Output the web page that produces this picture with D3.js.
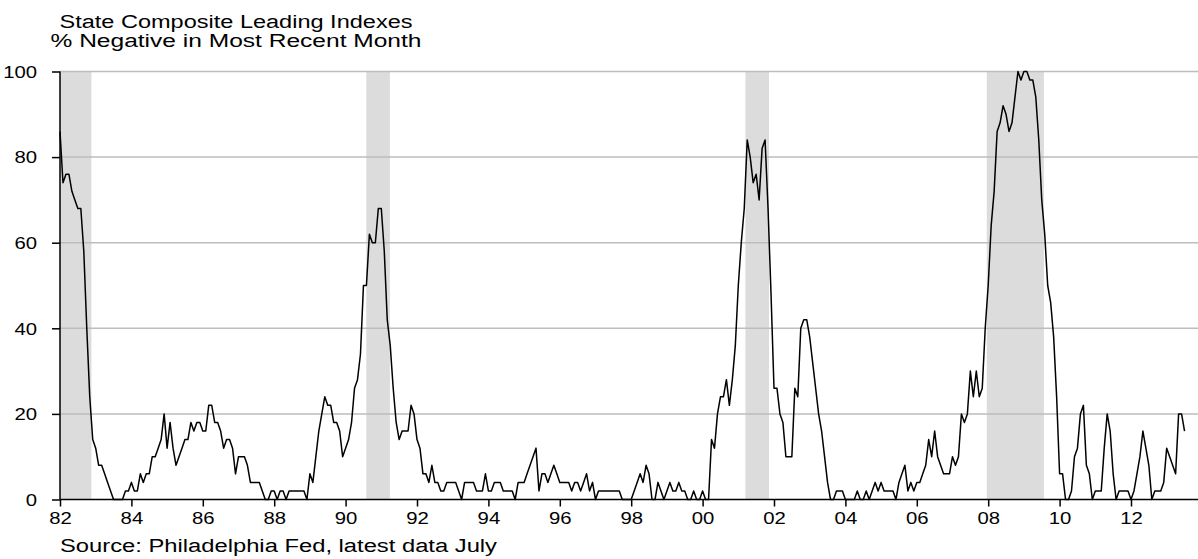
<!doctype html>
<html lang="en">
<head>
<meta charset="utf-8">
<title>State Composite Leading Indexes</title>
<script src="https://cdn.jsdelivr.net/npm/d3@7"></script>
<style>
  body { margin: 0; background: #fff; }
  svg text { font-family: Arial, "Liberation Sans", sans-serif; fill: #000; }
  .grid line { stroke: #bdbdbd; stroke-width: 1.5; }
  .axis line, .axis-line { stroke: #000; stroke-width: 1.5; }
  .series { fill: none; stroke: #000; stroke-width: 1.5; stroke-linejoin: round; }
  .recession { fill: #dcdcdc; }
</style>
</head>
<body>
<div id="viz"></div>
<script>

// DATA
// % of states with a negative leading index, monthly from Jan 1982 to Jul 2013
var startYear = 1982;
var pctNegative = [
  86, 74, 76, 76, 72, 70, 68, 68, 58, 40, 24, 14,   // 1982
  12,  8,  8,  6,  4,  2,  0,  0,  0,  0,  2,  2,   // 1983
   4,  2,  2,  6,  4,  6,  6, 10, 10, 12, 14, 20,   // 1984
  12, 18, 12,  8, 10, 12, 14, 14, 18, 16, 18, 18,   // 1985
  16, 16, 22, 22, 18, 18, 16, 12, 14, 14, 12,  6,   // 1986
  10, 10, 10,  8,  4,  4,  4,  4,  2,  0,  0,  2,   // 1987
   2,  0,  2,  2,  0,  2,  2,  2,  2,  2,  2,  0,   // 1988
   6,  4, 10, 16, 20, 24, 22, 22, 18, 18, 16, 10,   // 1989
  12, 14, 18, 26, 28, 34, 50, 50, 62, 60, 60, 68,   // 1990
  68, 58, 42, 36, 26, 18, 14, 16, 16, 16, 22, 20,   // 1991
  14, 12,  6,  6,  4,  8,  4,  4,  2,  2,  4,  4,   // 1992
   4,  4,  2,  0,  4,  4,  4,  4,  2,  2,  2,  6,   // 1993
   2,  2,  4,  4,  4,  2,  2,  2,  2,  0,  4,  4,   // 1994
   4,  6,  8, 10, 12,  2,  6,  6,  4,  6,  8,  6,   // 1995
   4,  4,  4,  4,  2,  4,  4,  2,  4,  6,  2,  4,   // 1996
   0,  2,  2,  2,  2,  2,  2,  2,  2,  0,  0,  0,   // 1997
   0,  2,  4,  6,  4,  8,  6,  0,  0,  4,  2,  0,   // 1998
   2,  4,  2,  2,  4,  2,  2,  0,  0,  2,  0,  0,   // 1999
   2,  0,  0, 14, 12, 20, 24, 24, 28, 22, 28, 36,   // 2000
  50, 60, 68, 84, 80, 74, 76, 70, 82, 84, 68, 48,   // 2001
  26, 26, 20, 18, 10, 10, 10, 26, 24, 40, 42, 42,   // 2002
  38, 32, 26, 20, 16, 10,  4,  0,  0,  2,  2,  2,   // 2003
   0,  0,  0,  0,  2,  0,  0,  2,  0,  2,  4,  2,   // 2004
   4,  2,  2,  2,  2,  0,  4,  6,  8,  2,  4,  2,   // 2005
   4,  4,  6,  8, 14, 10, 16, 10,  8,  6,  6,  6,   // 2006
  10,  8, 10, 20, 18, 20, 30, 24, 30, 24, 26, 40,   // 2007
  50, 64, 72, 86, 88, 92, 90, 86, 88, 94, 100, 98,  // 2008
  100, 100, 98, 98, 94, 84, 70, 62, 50, 46, 38, 24, // 2009
   6,  6,  0,  0,  2, 10, 12, 20, 22,  8,  6,  0,   // 2010
   2,  2,  2, 12, 20, 16,  6,  0,  2,  2,  2,  2,   // 2011
   0,  2,  6, 10, 16, 12,  8,  0,  2,  2,  2,  4,   // 2012
  12, 10,  8,  6, 20, 20, 16                        // 2013
];

// Recession shading, decimal years
var recessionStart = [1981.5, 1990.58, 2001.2, 2007.96];
var recessionEnd   = [1982.88, 1991.24, 2001.86, 2009.56];

var yTicks = [0, 20, 40, 60, 80, 100];
var xTicks = d3.range(1982, 2013, 2);

var titleLines = ["State Composite Leading Indexes", "% Negative in Most Recent Month"];
var sourceNote = "Source: Philadelphia Fed, latest data July";

// Dimensions
var w = 1198,
    h = 559;
var left = 60,
    right = 1198;
var sx = 1.27;   // the original picture is stretched sideways

// SCALES
var x = d3.scaleLinear().domain([1982, 2012]).range([60, 1131]);
var y = d3.scaleLinear().domain([0, 100]).range([499.5, 71.5]);

// DRAWING AREA
var svg = d3.select("#viz")
  .append("svg")
  .attr("width", w)
  .attr("height", h);

// recession bars
svg.append("g")
  .selectAll("rect")
  .data(recessionStart)
  .enter()
  .append("rect")
  .attr("class", "recession")
  .attr("x", function(d) { return Math.max(left, x(d)); })
  .attr("width", function(d, i) { return x(recessionEnd[i]) - Math.max(left, x(d)); })
  .attr("y", y(100))
  .attr("height", y(0) - y(100));

// gridlines
svg.append("g")
  .attr("class", "grid")
  .selectAll("line")
  .data(yTicks.slice(1))
  .enter()
  .append("line")
  .attr("x1", left)
  .attr("x2", right)
  .attr("y1", function(d) { return y(d); })
  .attr("y2", function(d) { return y(d); });

// LINE
var line = d3.line()
  .x(function(d, i) { return x(startYear + i / 12); })
  .y(function(d) { return y(d); });

svg.append("path")
  .datum(pctNegative)
  .attr("class", "series")
  .attr("d", line);

// AXES
var yAxis = d3.axisLeft(y)
  .tickValues(yTicks)
  .tickSize(8)
  .tickSizeOuter(0);

var gy = svg.append("g")
  .attr("class", "axis")
  .attr("transform", "translate(" + left + ",0)")
  .call(yAxis);
gy.select(".domain").remove();
gy.selectAll("text")
  .attr("x", -23 / sx)
  .attr("dy", "0.36em")
  .style("font-size", "16px")
  .attr("transform", "scale(" + sx + ",1)");

var xAxis = d3.axisBottom(x)
  .tickValues(xTicks)
  .tickSize(7)
  .tickPadding(6.5)
  .tickSizeOuter(0)
  .tickFormat(function(d) { return String(d % 100).padStart(2, "0"); });

var gx = svg.append("g")
  .attr("class", "axis")
  .attr("transform", "translate(0," + y(0) + ")")
  .call(xAxis);
gx.select(".domain").remove();
gx.selectAll("text")
  .style("font-size", "16px")
  .attr("transform", "scale(" + sx + ",1)");

// axis lines
svg.append("line")
  .attr("class", "axis-line")
  .attr("x1", left).attr("x2", left)
  .attr("y1", y(100)).attr("y2", y(0));
svg.append("line")
  .attr("class", "axis-line")
  .attr("x1", left).attr("x2", right)
  .attr("y1", y(0)).attr("y2", y(0));

// TITLE (two centred lines) and SOURCE
var titleWidths = [353, 371];

svg.selectAll("text.title")
  .data(titleLines)
  .enter()
  .append("text")
  .attr("class", "title")
  .attr("x", 236)
  .attr("y", function(d, i) { return 28 + i * 19; })
  .attr("text-anchor", "middle")
  .attr("textLength", function(d, i) { return titleWidths[i]; })
  .attr("lengthAdjust", "spacingAndGlyphs")
  .style("font-size", "18px")
  .text(function(d) { return d; });

svg.append("text")
  .attr("x", 60)
  .attr("y", 552)
  .attr("textLength", 437)
  .attr("lengthAdjust", "spacingAndGlyphs")
  .style("font-size", "18px")
  .text(sourceNote);

</script>
</body>
</html>
